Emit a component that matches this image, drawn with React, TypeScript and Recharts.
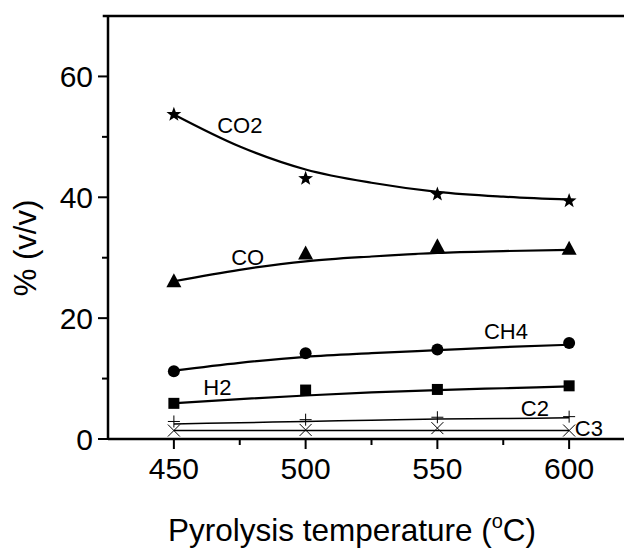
import React from 'react';
import { ComposedChart, Line, XAxis, YAxis, ReferenceLine, ReferenceDot } from 'recharts';

// measured gas composition (% v/v) at each pyrolysis temperature
const measuredTemps = [450, 500, 550, 600];
const co2 = [53.7, 43.1, 40.5, 39.4];
const co = [26.1, 30.7, 31.9, 31.5];
const ch4 = [11.2, 14.2, 14.8, 15.9];
const h2 = [5.9, 8.1, 8.2, 8.8];
const c2 = [2.9, 3.2, 3.6, 3.7];
const c3 = [1.4, 1.5, 1.8, 1.4];

// fitted curves
const fitTemps = [450, 475, 500, 525, 550, 575, 600];
const co2Fit = [53.7, 48.4, 44.6, 42.4, 40.9, 40.1, 39.6];
const coFit = [26.1, 28.0, 29.4, 30.2, 30.8, 31.1, 31.3];
const ch4Fit = [11.3, 12.6, 13.6, 14.2, 14.7, 15.2, 15.6];
const h2Fit = [5.9, 6.6, 7.2, 7.7, 8.1, 8.4, 8.7];
const c2Fit = [2.5, 2.7, 2.9, 3.1, 3.3, 3.4, 3.5];
const c3Fit = [1.4, 1.4, 1.4, 1.4, 1.4, 1.4, 1.4];

const xTicks = [450, 475, 500, 525, 550, 575, 600];
const yTicks = [0, 10, 20, 30, 40, 50, 60];

// series name labels placed in data coordinates
const seriesLabels = [
  { text: 'CO2', t: 475, v: 52 },
  { text: 'CO', t: 478, v: 30.1 },
  { text: 'CH4', t: 576, v: 17.8 },
  { text: 'H2', t: 466.5, v: 8.6 },
  { text: 'C2', t: 587, v: 5.1 },
  { text: 'C3', t: 607.5, v: 1.8 },
];

const FONT = '"Liberation Sans", Arial, sans-serif';

const pick = (arr: number[], t: number) => {
  const i = measuredTemps.indexOf(t);
  return i >= 0 ? arr[i] : null;
};

const rows = fitTemps.map((t, i) => ({
  t,
  co2Fit: co2Fit[i],
  coFit: coFit[i],
  ch4Fit: ch4Fit[i],
  h2Fit: h2Fit[i],
  c2Fit: c2Fit[i],
  c3Fit: c3Fit[i],
  co2: pick(co2, t),
  co: pick(co, t),
  ch4: pick(ch4, t),
  h2: pick(h2, t),
  c2: pick(c2, t),
  c3: pick(c3, t),
}));

const starPath = (cx: number, cy: number, R: number, r: number) => {
  let d = '';
  for (let k = 0; k < 10; k++) {
    const rad = k % 2 === 0 ? R : r;
    const a = -Math.PI / 2 + (k * Math.PI) / 5;
    d += (k === 0 ? 'M' : 'L') + (cx + rad * Math.cos(a)).toFixed(2) + ',' + (cy + rad * Math.sin(a)).toFixed(2);
  }
  return d + 'Z';
};

const marker = (kind: string) => (p: any) => {
  const { cx, cy, value, index } = p;
  const key = kind + index;
  if (value == null || cx == null || cy == null || isNaN(cy)) return <g key={key} />;
  switch (kind) {
    case 'star':
      return <path key={key} d={starPath(cx, cy, 7.8, 3.2)} fill="#000" />;
    case 'tri':
      return <path key={key} d={`M${cx},${cy - 8}L${cx + 7.5},${cy + 6}L${cx - 7.5},${cy + 6}Z`} fill="#000" />;
    case 'circle':
      return <circle key={key} cx={cx} cy={cy} r={6} fill="#000" />;
    case 'square':
      return <rect key={key} x={cx - 5.5} y={cy - 5.5} width={11} height={11} fill="#000" />;
    case 'plus':
      return (
        <path key={key} d={`M${cx - 6},${cy}H${cx + 6}M${cx},${cy - 6}V${cy + 6}`} stroke="#000" strokeWidth={1} fill="none" />
      );
    default:
      return (
        <path key={key} d={`M${cx - 6},${cy - 6}L${cx + 6},${cy + 6}M${cx - 6},${cy + 6}L${cx + 6},${cy - 6}`} stroke="#000" strokeWidth={1} fill="none" />
      );
  }
};

const XTick = (p: any) => {
  const { x, y, payload } = p;
  const major = payload.value % 50 === 0;
  return (
    <g>
      <line x1={x} y1={y} x2={x} y2={y + (major ? 10 : 6)} stroke="#000" strokeWidth={2} />
      {major && (
        <text x={x} y={y + 40} textAnchor="middle" fontSize={30} fontFamily={FONT} fill="#000">
          {payload.value}
        </text>
      )}
    </g>
  );
};

const YTick = (p: any) => {
  const { x, y, payload } = p;
  const major = payload.value % 20 === 0;
  return (
    <g>
      <line x1={x - (major ? 10 : 6)} y1={y} x2={x} y2={y} stroke="#000" strokeWidth={2} />
      {major && (
        <text x={x - 15} y={y + 11} textAnchor="end" fontSize={30} fontFamily={FONT} fill="#000">
          {payload.value}
        </text>
      )}
    </g>
  );
};

const XTitle = () => (
  <text x={352} y={541} textAnchor="middle" fontSize={31.5} fontFamily={FONT} fill="#000">
    Pyrolysis temperature (
    <tspan fontSize={20} dy={-13}>o</tspan>
    <tspan dy={13}>C)</tspan>
  </text>
);

const YTitle = () => (
  <text x={36} y={248} transform="rotate(-90 36 248)" textAnchor="middle" fontSize={31} fontFamily={FONT} fill="#000">
    % (v/v)
  </text>
);

const fits: [string, number][] = [
  ['co2Fit', 2.2], ['coFit', 2.2], ['ch4Fit', 2.2], ['h2Fit', 2.2], ['c2Fit', 1.5], ['c3Fit', 1.5],
];
const points: [string, string][] = [
  ['co2', 'star'], ['co', 'tri'], ['ch4', 'circle'], ['h2', 'square'], ['c2', 'plus'], ['c3', 'cross'],
];

export default function App() {
  return (
    <div style={{ position: 'absolute', left: 0, top: 0, width: 624, height: 548, overflow: 'hidden', background: '#fff' }}>
      <ComposedChart width={640} height={548} data={rows} margin={{ top: 16, right: 5, bottom: 0, left: 0 }}>
        <XAxis
          dataKey="t"
          type="number"
          domain={[425, 625]}
          ticks={xTicks}
          tickSize={0}
          tickMargin={0}
          tick={<XTick />}
          height={109}
          axisLine={{ stroke: '#000', strokeWidth: 2.5 }}
          label={<XTitle />}
        />
        <YAxis
          type="number"
          domain={[0, 70]}
          ticks={yTicks}
          tickSize={0}
          tickMargin={0}
          tick={<YTick />}
          width={108}
          axisLine={{ stroke: '#000', strokeWidth: 2.5 }}
          label={<YTitle />}
        />
        <ReferenceLine
          segment={[{ x: 423, y: 70 }, { x: 625, y: 70 }]}
          stroke="#000"
          strokeWidth={2.5}
          ifOverflow="visible"
        />
        {fits.map(([k, w]) => (
          <Line key={k} dataKey={k} type="monotone" stroke="#000" strokeWidth={w} dot={false} activeDot={false} isAnimationActive={false} />
        ))}
        {points.map(([k, kind]) => (
          <Line key={k} dataKey={k} stroke="none" dot={marker(kind)} activeDot={false} isAnimationActive={false} />
        ))}
        {seriesLabels.map((l) => (
          <ReferenceDot
            key={l.text}
            x={l.t}
            y={l.v}
            r={0}
            fill="none"
            stroke="none"
            ifOverflow="visible"
            label={{ value: l.text, position: 'center', fontSize: 22, fontFamily: FONT, fill: '#000' }}
          />
        ))}
      </ComposedChart>
    </div>
  );
}
